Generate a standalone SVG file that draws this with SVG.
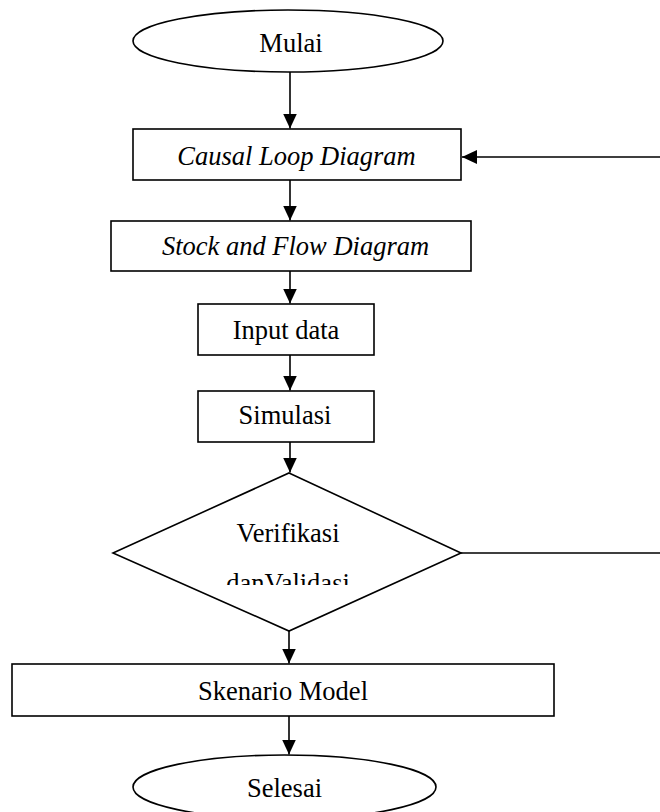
<svg xmlns="http://www.w3.org/2000/svg" width="660" height="812" viewBox="0 0 660 812">
<style>
.s{fill:#fff;stroke:#000;stroke-width:1.6}
.t{font-family:"Liberation Serif","Times New Roman",serif;font-size:26.5px;fill:#000;text-anchor:middle}
.i{font-style:italic}
.c{fill:none;stroke:#000;stroke-width:1.6}
</style>
<defs>
<marker id="ah" markerUnits="userSpaceOnUse" markerWidth="16" markerHeight="14" refX="15" refY="7" orient="auto">
<path d="M0,0 L15,7 L0,14 Z" fill="#000"/>
</marker>
<clipPath id="clipTxt"><rect x="0" y="0" width="660" height="585"/></clipPath>
</defs>
<rect width="660" height="812" fill="#fff"/>
<g id="connectors">
<line class="c" x1="290" y1="72" x2="290" y2="128.5" marker-end="url(#ah)"/>
<line class="c" x1="290" y1="180" x2="290" y2="220.5" marker-end="url(#ah)"/>
<line class="c" x1="290" y1="271" x2="290" y2="303.5" marker-end="url(#ah)"/>
<line class="c" x1="290" y1="355" x2="290" y2="390.5" marker-end="url(#ah)"/>
<line class="c" x1="290" y1="442" x2="290" y2="472.5" marker-end="url(#ah)"/>
<line class="c" x1="289" y1="631" x2="289" y2="663.5" marker-end="url(#ah)"/>
<line class="c" x1="289" y1="716" x2="289" y2="754.5" marker-end="url(#ah)"/>
<path class="c" d="M461,553 H666 V157 H462" marker-end="url(#ah)"/>
</g>
<g id="mulai">
<ellipse class="s" cx="288" cy="41" rx="155" ry="31"/>
<text class="t" x="291" y="52">Mulai</text>
</g>
<g id="cld">
<rect class="s" x="133" y="129" width="328" height="51"/>
<text class="t i" x="296.5" y="165">Causal Loop Diagram</text>
</g>
<g id="sfd">
<rect class="s" x="111" y="221" width="360" height="50"/>
<text class="t i" x="295.5" y="255">Stock and Flow Diagram</text>
</g>
<g id="input">
<rect class="s" x="198" y="304" width="176" height="51"/>
<text class="t" x="286" y="339">Input data</text>
</g>
<g id="simulasi">
<rect class="s" x="198" y="391" width="176" height="51"/>
<text class="t" x="285" y="424">Simulasi</text>
</g>
<g id="verifikasi">
<polygon class="s" points="289,473 461,553 289,631 113,553"/>
<text class="t" x="288" y="542">Verifikasi</text>
<text class="t" x="288" y="592" clip-path="url(#clipTxt)">danValidasi</text>
</g>
<g id="skenario">
<rect class="s" x="12" y="664" width="542" height="52"/>
<text class="t" x="283" y="700">Skenario Model</text>
</g>
<g id="selesai">
<ellipse class="s" cx="284.5" cy="787" rx="151.5" ry="32"/>
<text class="t" x="284.5" y="797">Selesai</text>
</g>
</svg>
